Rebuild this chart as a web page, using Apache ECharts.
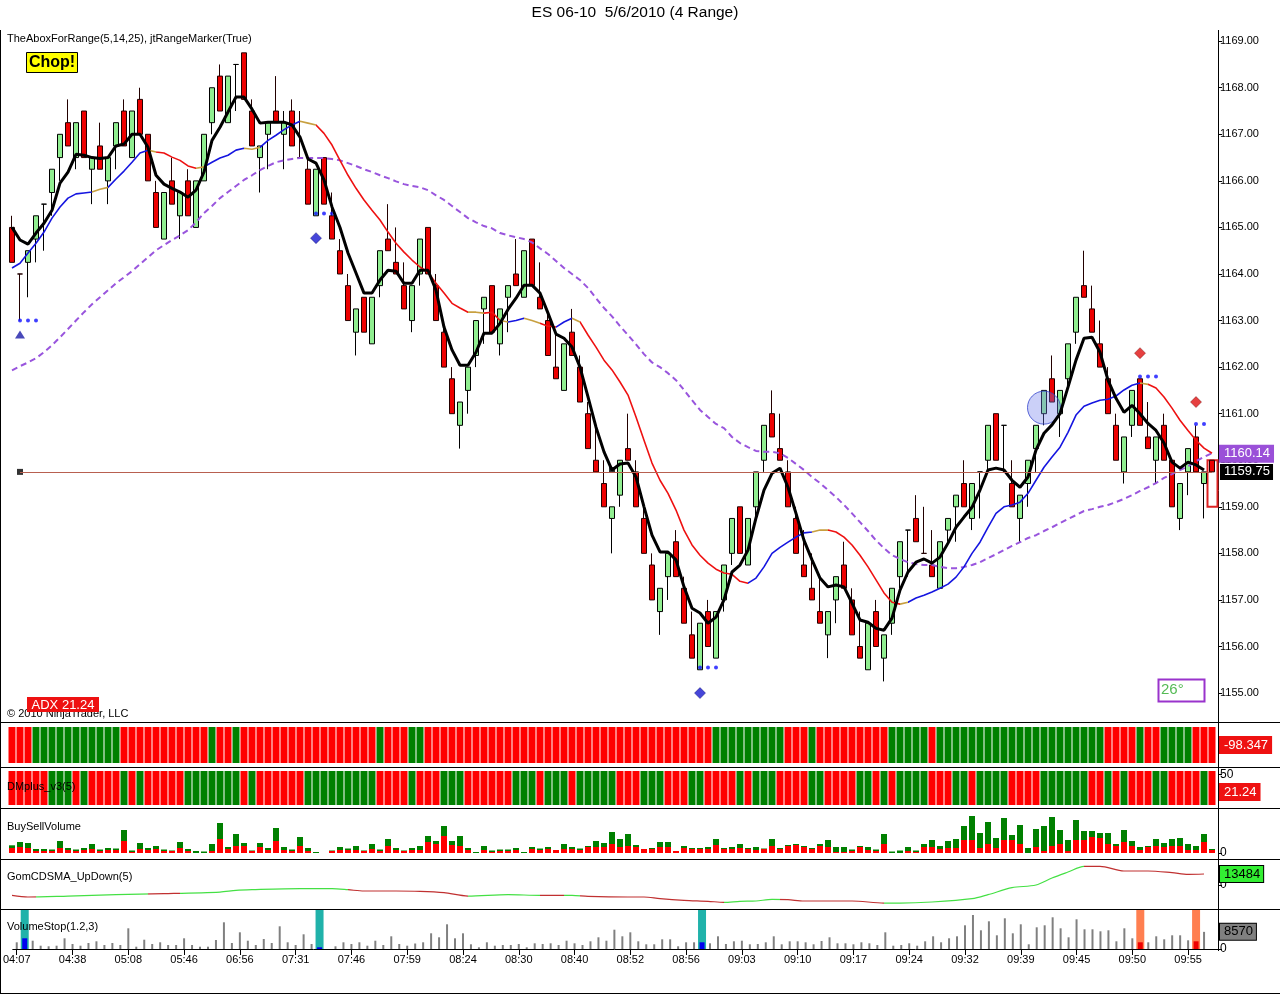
<!DOCTYPE html>
<html><head><meta charset="utf-8">
<script src="https://cdn.jsdelivr.net/npm/echarts@6/dist/echarts.min.js"></script>
<style>html,body{margin:0;padding:0;background:#fff}#c{width:1280px;height:994px}</style>
</head><body><div id="c"></div>
<script>
// ---------- DATA ----------
const tickLabels = ['04:07','04:38','05:08','05:46','06:56','07:31','07:46','07:59','08:24','08:30','08:40','08:52','08:56','09:03','09:10','09:17','09:24','09:32','09:39','09:45','09:50','09:55'];
const priceTicks = [1155,1156,1157,1158,1159,1160,1161,1162,1163,1164,1165,1166,1167,1168,1169];

const opens = [1165.0,1164.0,1164.25,1164.75,1165.5,1165.75,1166.5,1167.25,1166.5,1167.5,
1166.25,1166.75,1166.0,1166.75,1167.5,1166.5,1167.75,1167.0,1165.75,1164.75,
1166.0,1165.25,1166.0,1165.0,1166.0,1167.25,1168.25,1167.25,1168.5,1168.75,
1167.5,1166.5,1167.0,1167.5,1167.0,1167.5,1166.5,1166.25,1165.25,1166.5,
1165.25,1164.5,1163.75,1162.75,1163.5,1162.5,1163.75,1164.75,1164.25,1163.75,
1163.0,1164.0,1165.0,1163.75,1162.75,1161.75,1160.75,1161.5,1162.25,1163.25,
1163.75,1162.5,1163.5,1164.0,1163.5,1164.75,1163.5,1163.0,1162.0,1161.5,
1162.75,1162.0,1161.0,1160.0,1159.5,1158.75,1159.25,1160.25,1159.75,1158.75,
1157.75,1156.75,1157.5,1158.25,1157.25,1156.25,1155.5,1156.75,1155.75,1157.0,
1158.0,1159.0,1157.75,1159.0,1160.0,1161.0,1160.25,1159.75,1158.75,1157.75,
1157.25,1156.75,1156.25,1157.0,1157.75,1157.0,1156.0,1155.5,1156.75,1155.75,
1156.5,1157.5,1158.5,1158.75,1158.0,1157.75,1157.25,1158.5,1159.0,1159.5,
1158.75,1159.75,1160.0,1161.0,1160.75,1159.5,1158.75,1159.5,1160.25,1161.0,
1161.75,1161.0,1161.75,1162.75,1163.75,1163.25,1162.5,1161.75,1160.75,1159.75,
1160.75,1161.75,1160.5,1160.0,1160.75,1160.0,1158.75,1159.75,1160.5,1159.5,
1160.0];
const closes = [1164.25,1164.0,1164.5,1165.25,1165.5,1166.25,1167.0,1166.75,1167.25,1166.5,
1166.5,1166.25,1166.5,1167.25,1166.75,1167.5,1167.0,1166.0,1165.0,1165.75,
1165.5,1165.75,1165.25,1166.0,1167.0,1168.0,1167.5,1168.25,1168.5,1167.75,
1166.75,1166.75,1167.25,1167.25,1167.25,1166.75,1166.5,1165.5,1166.25,1165.5,
1164.75,1164.0,1163.0,1163.25,1162.75,1163.5,1164.5,1164.5,1164.0,1163.25,
1163.75,1164.75,1164.0,1163.0,1162.0,1161.0,1161.25,1162.0,1163.0,1163.5,
1162.75,1163.25,1163.75,1163.75,1164.5,1163.75,1163.25,1162.25,1161.75,1162.5,
1162.25,1161.25,1160.25,1159.75,1159.0,1159.0,1160.0,1160.0,1159.0,1158.0,
1157.0,1157.25,1158.0,1157.5,1156.5,1155.75,1156.5,1156.0,1156.75,1157.75,
1158.75,1158.0,1158.75,1159.75,1160.75,1160.5,1160.0,1159.0,1158.0,1157.5,
1157.0,1156.5,1156.75,1157.5,1157.25,1156.25,1155.75,1156.5,1156.0,1156.25,
1157.25,1158.25,1158.5,1158.25,1158.0,1157.5,1158.25,1158.75,1159.25,1159.0,
1159.5,1159.75,1160.75,1160.0,1160.75,1159.0,1159.25,1160.0,1160.75,1161.5,
1161.25,1161.5,1162.5,1163.5,1163.5,1162.75,1162.0,1161.0,1160.0,1160.5,
1161.5,1160.75,1160.25,1160.5,1160.0,1159.0,1159.5,1160.25,1159.75,1159.75,
1159.75];
const lows = [1164.25,1163.0,1163.5,1164.25,1164.5,1165.25,1166.0,1166.75,1166.25,1166.5,
1165.5,1166.25,1165.5,1166.25,1166.75,1166.5,1167.0,1166.0,1165.0,1164.75,
1165.5,1164.75,1165.25,1165.0,1166.0,1167.0,1167.5,1167.25,1167.5,1167.75,
1166.75,1165.75,1166.25,1167.25,1166.25,1166.75,1166.5,1165.5,1165.25,1165.5,
1164.75,1164.0,1163.0,1162.25,1162.75,1162.5,1163.5,1164.5,1164.0,1163.25,
1162.75,1163.75,1164.0,1163.0,1162.0,1161.0,1160.25,1161.0,1162.0,1162.5,
1162.75,1162.25,1162.75,1163.75,1163.5,1163.75,1163.25,1162.25,1161.75,1161.5,
1162.25,1161.25,1160.25,1159.75,1159.0,1158.0,1159.0,1160.0,1159.0,1158.0,
1157.0,1156.25,1157.0,1157.5,1156.5,1155.75,1155.5,1156.0,1155.75,1156.75,
1157.75,1158.0,1157.75,1158.75,1159.75,1160.5,1160.0,1159.0,1158.0,1157.5,
1157.0,1156.5,1155.75,1156.5,1157.25,1156.25,1155.75,1155.5,1156.0,1155.25,
1156.25,1157.25,1157.5,1158.25,1158.0,1157.5,1157.25,1158.25,1158.25,1159.0,
1158.5,1158.75,1159.75,1160.0,1159.75,1159.0,1158.25,1159.0,1159.75,1160.75,
1161.25,1160.5,1161.5,1162.5,1163.5,1162.75,1162.0,1161.0,1160.0,1159.5,
1160.5,1160.75,1160.25,1159.5,1160.0,1159.0,1158.5,1159.25,1159.75,1158.75,
1159.75];
const highs = [1165.25,1164.0,1164.5,1165.25,1165.5,1166.25,1167.0,1167.75,1167.25,1167.5,
1166.5,1167.25,1166.5,1167.25,1167.75,1167.5,1168.0,1167.0,1166.0,1165.75,
1166.5,1165.75,1166.25,1166.0,1167.0,1168.0,1168.5,1168.25,1168.5,1168.75,
1167.75,1166.75,1167.25,1168.25,1167.5,1167.75,1167.5,1166.5,1166.25,1166.5,
1165.75,1164.75,1164.0,1163.25,1163.5,1163.5,1164.5,1165.5,1165.0,1164.25,
1163.75,1164.75,1165.0,1164.0,1163.0,1162.0,1161.25,1162.0,1163.0,1163.5,
1163.75,1163.25,1163.75,1164.75,1164.5,1164.75,1164.25,1163.25,1162.75,1162.5,
1163.25,1162.25,1161.25,1160.75,1160.0,1159.0,1160.0,1161.0,1160.0,1159.0,
1158.0,1157.25,1158.0,1158.5,1157.5,1156.75,1156.5,1157.0,1156.75,1157.75,
1158.75,1159.0,1158.75,1159.75,1160.75,1161.5,1161.0,1160.0,1159.0,1158.5,
1158.0,1157.5,1156.75,1157.5,1158.25,1157.25,1156.75,1156.5,1157.0,1156.25,
1157.25,1158.25,1158.5,1159.25,1159.0,1158.5,1158.25,1158.75,1159.25,1160.0,
1159.5,1159.75,1160.75,1161.0,1160.75,1160.0,1159.25,1160.0,1160.75,1161.5,
1162.25,1161.5,1162.5,1163.5,1164.5,1163.75,1163.0,1162.0,1161.0,1160.5,
1161.5,1161.75,1161.25,1160.5,1161.0,1160.0,1159.5,1160.25,1160.75,1159.75,
1160.0];

const fastMA = [1165.0,1164.73,1164.64,1164.88,1165.09,1165.37,1165.95,1166.19,1166.57,1166.55,
1166.5,1166.48,1166.5,1166.75,1166.79,1167.0,1167.0,1166.72,1166.12,1165.93,
1165.84,1165.76,1165.65,1165.8,1166.19,1166.87,1167.15,1167.48,1167.8,1167.8,
1167.54,1167.24,1167.26,1167.26,1167.26,1167.2,1166.94,1166.47,1166.38,1166.02,
1165.44,1165.0,1164.45,1164.02,1163.59,1163.59,1163.87,1164.08,1164.06,1163.8,
1163.8,1164.08,1164.08,1163.65,1162.86,1162.37,1162.04,1162.04,1162.32,1162.73,
1162.73,1162.94,1163.24,1163.48,1163.76,1163.76,1163.59,1163.16,1162.71,1162.62,
1162.43,1162.0,1161.36,1160.71,1160.18,1159.79,1159.92,1159.94,1159.64,1159.0,
1158.39,1158.03,1158.03,1157.86,1157.28,1156.82,1156.72,1156.5,1156.63,1157.0,
1157.6,1157.75,1158.07,1158.76,1159.36,1159.72,1159.83,1159.42,1158.86,1158.28,
1157.86,1157.47,1157.28,1157.32,1157.28,1156.93,1156.57,1156.52,1156.39,1156.35,
1156.61,1157.21,1157.6,1157.81,1157.88,1157.79,1157.92,1158.22,1158.56,1158.78,
1158.99,1159.36,1159.79,1159.83,1159.79,1159.57,1159.42,1159.64,1160.22,1160.58,
1160.76,1161.0,1161.57,1162.15,1162.62,1162.64,1162.32,1161.72,1161.33,1161.03,
1161.18,1161.0,1160.79,1160.64,1160.37,1159.96,1159.83,1159.96,1159.9,1159.79,
null];
const midMA = [1164.13,1164.23,1164.45,1164.66,1164.9,1165.2,1165.44,1165.63,1165.72,1165.74,
1165.76,1165.82,1165.86,1166.04,1166.21,1166.4,1166.6,1166.66,1166.62,1166.6,
1166.51,1166.44,1166.32,1166.27,1166.3,1166.4,1166.49,1166.55,1166.66,1166.7,
1166.68,1166.72,1166.87,1166.98,1167.1,1167.2,1167.28,1167.24,1167.2,1167.02,
1166.77,1166.44,1166.12,1165.84,1165.59,1165.37,1165.16,1164.9,1164.66,1164.47,
1164.3,1164.15,1164.04,1163.8,1163.59,1163.37,1163.27,1163.18,1163.18,1163.16,
1163.18,1163.0,1162.97,1163.0,1163.05,1163.0,1162.94,1162.88,1162.86,1162.97,
1163.05,1162.97,1162.69,1162.43,1162.15,1161.94,1161.68,1161.4,1160.93,1160.43,
1159.94,1159.57,1159.29,1158.93,1158.5,1158.18,1157.96,1157.79,1157.66,1157.58,
1157.55,1157.4,1157.36,1157.47,1157.71,1158.0,1158.13,1158.24,1158.35,1158.44,
1158.46,1158.5,1158.5,1158.46,1158.35,1158.18,1157.96,1157.71,1157.43,1157.15,
1156.95,1156.91,1156.95,1157.04,1157.1,1157.17,1157.25,1157.34,1157.49,1157.71,
1158.0,1158.24,1158.56,1158.86,1159.0,1159.04,1159.1,1159.29,1159.57,1159.85,
1160.07,1160.28,1160.6,1160.97,1161.16,1161.23,1161.29,1161.31,1161.38,1161.51,
1161.61,1161.66,1161.63,1161.55,1161.36,1161.12,1160.86,1160.64,1160.43,1160.26,
1160.15];
const slowMA = [1161.93,1162.02,1162.1,1162.19,1162.32,1162.47,1162.64,1162.82,1163.0,1163.18,
1163.35,1163.5,1163.65,1163.8,1163.93,1164.06,1164.21,1164.36,1164.51,1164.62,
1164.73,1164.83,1164.94,1165.11,1165.31,1165.46,1165.63,1165.76,1165.89,1166.02,
1166.12,1166.23,1166.32,1166.4,1166.44,1166.47,1166.49,1166.49,1166.49,1166.49,
1166.47,1166.44,1166.38,1166.32,1166.25,1166.19,1166.12,1166.06,1165.99,1165.93,
1165.89,1165.86,1165.8,1165.69,1165.59,1165.46,1165.33,1165.2,1165.11,1165.03,
1164.98,1164.88,1164.83,1164.79,1164.75,1164.68,1164.55,1164.43,1164.28,1164.13,
1164.0,1163.87,1163.7,1163.48,1163.27,1163.09,1162.88,1162.69,1162.49,1162.28,
1162.1,1162.0,1161.87,1161.72,1161.51,1161.29,1161.08,1160.93,1160.78,1160.69,
1160.5,1160.37,1160.28,1160.2,1160.18,1160.18,1160.15,1160.05,1159.92,1159.79,
1159.64,1159.51,1159.36,1159.21,1159.04,1158.86,1158.67,1158.48,1158.28,1158.11,
1157.96,1157.88,1157.81,1157.77,1157.75,1157.75,1157.71,1157.68,1157.68,1157.71,
1157.75,1157.81,1157.9,1157.98,1158.07,1158.16,1158.24,1158.33,1158.39,1158.48,
1158.56,1158.65,1158.74,1158.82,1158.91,1158.95,1159.0,1159.04,1159.1,1159.17,
1159.25,1159.34,1159.42,1159.51,1159.62,1159.7,1159.79,1159.87,1159.98,1160.07,
1160.15];
// colour state of the mid average: [from, to, state] b=rising g=flat r=falling
const maColorRuns = [[0,9,'b'],[10,11,'g'],[12,16,'b'],[17,17,'g'],[18,22,'r'],[23,23,'g'],[24,28,'b'],[29,30,'g'],[31,35,'b'],[36,37,'g'],[38,56,'r'],[57,58,'g'],[59,60,'r'],[61,61,'g'],[62,63,'b'],[64,65,'g'],[66,67,'r'],[68,69,'b'],[70,70,'g'],[71,91,'r'],[92,99,'b'],[100,101,'g'],[102,110,'r'],[111,111,'g'],[112,140,'b'],[141,141,'g'],[142,150,'r']];

const rangeDots = [[1,1163.0],[2,1163.0],[3,1163.0],[38,1165.3],[39,1165.3],[40,1165.3],[86,1155.55],[87,1155.55],[88,1155.55],[141,1161.8],[142,1161.8],[143,1161.8],[148,1160.78],[149,1160.78]];
const upTriangles = [[1,1162.7]];
const blueDiamonds = [[38,1164.77],[86,1155.0]];
const redDiamonds = [[141,1162.3],[148,1161.25]];
const chopCircle = [[129,1161.13]];
const blackSquares = [[1,1159.75],[75,1159.79]];
const rangeBox = [[150,1159.0,1160.0]];
const lastPrice = 1159.75;
const slowLast = 1160.14;

// sub panels
const stripARuns = [['D',3],['U',11],['D',11],['U',1],['D',2],['U',1],['D',17],['U',1],['D',3],['U',2],['D',36],['U',9],['D',3],['U',1],['D',9],['U',5],['D',1],['U',21],['D',4],['U',1],['D',2],['U',4],['D',3]];
const stripAValue = '-98.347';
const dmRuns = [['D',5],['U',3],['D',1],['U',1],['D',4],['U',1],['D',1],['U',1],['D',5],['U',7],['D',1],['U',1],['D',6],['U',9],['D',4],['U',1],['D',3],['U',3],['D',6],['U',3],['D',1],['U',3],['D',1],['U',5],['D',3],['U',3],['D',3],['U',2],['D',4],['U',1],['D',1],['U',3],['D',4],['U',2],['D',4],['U',2],['D',1],['U',1],['D',1],['U',4],['D',3],['U',2],['D',1],['U',4],['D',4],['U',6],['D',2],['U',1],['D',1],['U',1],['D',3],['U',2],['D',4],['U',1],['D',1]];
const dmValue = 21.24;

const sellVol = [5,6,5,2,2,2,5,3,2,3, 4,2,3,3,12,1,4,3,4,2, 2,5,2,0,0,2,14,4,7,7, 2,6,3,12,3,2,7,2,0,0,
2,3,3,3,2,4,2,7,3,2, 3,3,11,9,17,8,7,3,0,3, 1,2,2,3,0,4,3,4,3,4, 4,3,6,6,6,9,6,7,6,4,
4,6,6,2,5,4,4,4,8,4, 4,5,4,3,4,7,4,7,8,6, 4,7,6,1,1,2,6,3,2,9, 0,0,2,1,6,6,4,5,5,13,
13,5,9,5,13,13,9,0,6,2, 7,9,2,13,13,16,15,9,7,11, 7,3,6,7,6,7,7,3,3,11, 3];
const buyVol = [2.7,5,5,2,2,1.5,7,2,1.5,2, 5,1.5,2,1.5,11,1.5,6,2,3,1.5, 0.5,6,2,2,1.5,7,16,2,12,3, 0.5,4,2,13,3,1.5,9,3,1,0,
0.5,3,1.5,4,0.5,5,1.5,7,2,0.5, 2,4,6,3,10,4,10,2,1,4, 1.5,1.5,1.5,2,1,2,1.5,2,0,5, 2,1.5,1,6,4,12,8,12,2,0,
1,5,5,0,2,1,1,2,6,1, 2,4,1,3,0.5,7,1,1,1,1, 1,2,7,5,5,1.5,1,3,1.5,10, 1.5,2.5,4,1.5,3,7,3,7,9,14,
24,15,22,10,22,5,19,5,18,25, 29,14,11,20,9,6,5,11,2,12, 5,3,1,7,4,7,8,6,4,8, 1];

const gomPoints = [[0,-12650],[2,-14700],[7,-13500],[13,-11850],[19,-10650],[26,-8600],[28,-6540],[30,-5720],[36,-4500],[40,-4500],[42,-5720],[44,-7360],[48,-7360],[51,-7770],[54,-9400],[57,-13500],[62,-11850],[66,-12650],[70,-12650],[72,-13900],[77,-14700],[79,-14700],[81,-16750],[84,-18800],[87,-20000],[89,-21250],[91,-20000],[93,-19600],[95,-17570],[97,-18000],[99,-19600],[101,-19600],[105,-19600],[109,-22100],[111,-22100],[115,-20800],[120,-16750],[122,-11850],[125,-3270],[128,0],[130,8580],[132,15900],[134,22900],[136,22900],[139,17200],[142,17200],[145,15130],[147,13100],[149,13484]];
const gomColorRuns = [[0,3,'r'],[3,17,'g'],[17,21,'r'],[21,42,'g'],[42,57,'r'],[57,66,'g'],[66,69,'r'],[69,71,'g'],[71,89,'r'],[89,96,'g'],[96,109,'r'],[109,134,'g'],[134,150,'r']];
const gomLast = 13484;

const volStop = [3350,5350,4150,1650,1350,1650,5350,2500,1650,3000,
3850,2000,3000,2000,10350,1150,4650,2500,3350,2000,
2000,5350,2000,1150,1150,4500,13350,3000,8350,4150,
2000,5000,3000,11350,3350,2000,7350,2500,850,0,
1350,3350,2500,3350,1650,4150,2000,6350,2500,1650,
2750,3350,7850,5850,12350,5350,7850,2350,850,3350,
1650,2000,2000,2500,850,2850,2500,2850,2000,4150,
2850,2000,3850,5850,4150,9650,6350,8350,3850,2350,
2350,4850,4850,1350,3350,3350,3350,2850,6350,2500,
3850,4150,2350,2500,3350,6350,2350,3850,3850,3350,
2350,4000,5850,2850,2850,2350,3350,2850,2000,8350,
1650,2000,2850,1650,3850,6350,3350,5350,6350,11850,
17000,9350,13850,6850,15350,7850,12350,2350,10850,11850,
15850,10350,5850,14850,9850,9850,8850,9350,3850,10350,
5350,3350,3350,6350,4850,6850,6850,4350,3850,8570,
0];
const volStopUp = [1,38,86];
const volStopDown = [141,148];
const volLast = 8570;

// ---------- BUILD ----------
const cats = opens.map((_, i) => String(i));
const expand = runs => runs.flatMap(([s, n]) => Array(n).fill(s));
const stripA = expand(stripARuns);
const dm = expand(dmRuns);
const FONT = '"Liberation Sans", Arial, sans-serif';
const RED = '#ff0000', GREEN = '#008000';
const VOLMAX = 19500;

const maColor = {b:'#1515e0', r:'#ee1111', g:'#c8a040'};
const maPieces = maColorRuns.map(([a,b,c]) => ({gte:a-0.5, lt:b+0.5, color:maColor[c]}));
const gomColor = {g:'#44e044', r:'#c03030'};
const gomPieces = gomColorRuns.map(([a,b,c], k) => k === gomColorRuns.length-1 ? {gte:a, lte:b+1, color:gomColor[c]} : {gte:a, lt:b, color:gomColor[c]});

const grids = [
  {top:30, height:691}, {top:727, height:36}, {top:771, height:34},
  {top:809, height:44}, {top:860, height:49}, {top:910, height:39}
].map(g => Object.assign({left:8, width:1208}, g));

const xAxes = grids.map((g, k) => ({
  type:'category', data:cats, gridIndex:k, boundaryGap:true, show:k === 5,
  axisLine:{show:true, lineStyle:{color:'#000'}},
  axisTick:{show:true, alignWithLabel:true, length:6, interval:(i) => i % 7 === 0, lineStyle:{color:'#000'}},
  axisLabel:{show:true, interval:(i) => i % 7 === 0, formatter:(v, i) => tickLabels[i/7] || '', color:'#000', fontSize:11, fontFamily:FONT, margin:5}
}));
xAxes.push({type:'category', data:cats, gridIndex:5, show:false});
xAxes.push({type:'category', data:cats, gridIndex:5, show:false});

function yAx(k, min, max, ticks, fmt, fs){
  return {type:'value', gridIndex:k, position:'right', offset:2, min:min, max:max, splitLine:{show:false},
    axisLine:{show:false},
    axisTick:{show:ticks.length>0, length:4, inside:false, customValues:ticks, lineStyle:{color:'#000'}},
    axisLabel:{show:ticks.length>0, customValues:ticks, formatter:fmt || (v => String(v)), color:'#000', fontSize:fs || 11, fontFamily:FONT, margin:2}};
}
const yAxes = [
  yAx(0, 1154.4, 1169.24, priceTicks, v => v.toFixed(2)),
  yAx(1, 0, 1, []),
  yAx(2, 0, 56, [50], null, 12),
  yAx(3, 0, 44, [0], null, 12),
  yAx(4, -29400, 30650, [0], null, 12),
  yAx(5, 0, VOLMAX, [0], null, 12)
];

function tag(value, text, bg, fg, border){
  return {silent:true, symbol:['none','none'], animation:false,
    lineStyle:{color:'rgba(0,0,0,0)', width:0},
    data:[{yAxis:value}],
    label:{show:true, position:'end', distance:4, formatter:text, color:fg, backgroundColor:bg,
      borderColor:border || bg, borderWidth:1, padding:[2,3,1,4], fontSize:13, fontFamily:FONT}};
}

const series = [
  {type:'candlestick', xAxisIndex:0, yAxisIndex:0, barWidth:5,
   data: opens.map((o, i) => [o, closes[i], lows[i], highs[i]]),
   itemStyle:{color:'#90ee90', color0:'#ee0000', borderColor:'#000', borderColor0:'#200', borderWidth:1},
   markLine:{silent:true, symbol:['none','none'], animation:false,
     data:[[{coord:[1, lastPrice]}, {coord:[150, lastPrice]}]], lineStyle:{color:'#b86050', width:1, type:'solid'},
     label:{show:true, position:'end', distance:8, formatter:lastPrice.toFixed(2), color:'#fff', backgroundColor:'#000', padding:[2,3,1,4], fontSize:13, fontFamily:FONT}}},
  {type:'line', xAxisIndex:0, yAxisIndex:0, data:slowMA, showSymbol:false, lineStyle:{color:'#9955dd', width:2, type:[6,4]},
   markLine: tag(slowLast, slowLast.toFixed(2), '#9a50d8', '#fff')},
  {type:'line', xAxisIndex:0, yAxisIndex:0, data:midMA, showSymbol:false, lineStyle:{width:1.6}},
  {type:'line', xAxisIndex:0, yAxisIndex:0, data:fastMA, showSymbol:false, lineStyle:{color:'#000', width:3}},
  {type:'scatter', xAxisIndex:0, yAxisIndex:0, data:rangeDots, symbol:'circle', symbolSize:4, itemStyle:{color:'#1010ff'}},
  {type:'scatter', xAxisIndex:0, yAxisIndex:0, data:upTriangles, symbol:'triangle', symbolSize:[10,8], itemStyle:{color:'#1a1aa8'}},
  {type:'scatter', xAxisIndex:0, yAxisIndex:0, data:blueDiamonds, symbol:'diamond', symbolSize:11, itemStyle:{color:'#1818d0', borderColor:'#000060', borderWidth:0.5}},
  {type:'scatter', xAxisIndex:0, yAxisIndex:0, data:redDiamonds, symbol:'diamond', symbolSize:11, itemStyle:{color:'#e01010', borderColor:'#600', borderWidth:0.5}},
  {type:'scatter', xAxisIndex:0, yAxisIndex:0, data:chopCircle, symbol:'circle', symbolSize:33, itemStyle:{color:'rgba(110,125,235,0.45)', borderColor:'#3344cc', borderWidth:1}},
  {type:'scatter', xAxisIndex:0, yAxisIndex:0, data:blackSquares, symbol:'rect', symbolSize:6, itemStyle:{color:'#000'}},
  {type:'custom', xAxisIndex:0, yAxisIndex:0, data:rangeBox, encode:{x:0, y:[1,2]}, clip:false,
   renderItem:(params, api) => {
     const top = api.coord([api.value(0), api.value(2)]);
     const bot = api.coord([api.value(0), api.value(1)]);
     return {type:'rect', shape:{x:top[0]-4.5, y:top[1], width:10, height:bot[1]-top[1]}, style:{fill:'none', stroke:'#dd2222', lineWidth:2}};
   }},
  {type:'bar', xAxisIndex:1, yAxisIndex:1, barWidth:7, data: stripA.map(s => ({value:1, itemStyle:{color: s === 'U' ? GREEN : RED}})),
   markLine: tag(0.5, stripAValue, '#ee1111', '#fff')},
  {type:'bar', xAxisIndex:2, yAxisIndex:2, barWidth:7, data: dm.map(s => ({value:56, itemStyle:{color: s === 'U' ? GREEN : RED}})),
   markLine: tag(dmValue, dmValue.toFixed(2), '#ee1111', '#fff')},
  {type:'bar', xAxisIndex:3, yAxisIndex:3, barWidth:6, stack:'bsv', data:sellVol, itemStyle:{color:RED}},
  {type:'bar', xAxisIndex:3, yAxisIndex:3, barWidth:6, stack:'bsv', data:buyVol, itemStyle:{color:GREEN}},
  {type:'line', xAxisIndex:4, yAxisIndex:4, data:gomPoints, showSymbol:false, smooth:0.3, lineStyle:{width:1.2},
   markLine: tag(gomLast, String(gomLast), '#33ee33', '#000', '#000')},
  {type:'bar', xAxisIndex:6, yAxisIndex:5, barWidth:8,
   data: cats.map((_, i) => volStopUp.includes(i) ? {value:VOLMAX, itemStyle:{color:'#20b2aa'}} : (volStopDown.includes(i) ? {value:VOLMAX, itemStyle:{color:'#ff7f50'}} : null))},
  {type:'bar', xAxisIndex:5, yAxisIndex:5, barWidth:2,
   data: volStop.map((v, i) => (volStopUp.includes(i) || volStopDown.includes(i)) ? null : v), itemStyle:{color:'#808080'},
   markLine: tag(volLast, String(volLast), '#808080', '#000', '#000')},
  {type:'bar', xAxisIndex:7, yAxisIndex:5, barWidth:5,
   data: volStop.map((v, i) => volStopUp.includes(i) ? {value:v, itemStyle:{color:'#0000ee'}} : (volStopDown.includes(i) ? {value:v, itemStyle:{color:'#ee0000'}} : null))}
];

const hLine = (y) => ({type:'line', shape:{x1:0, y1:y, x2:1280, y2:y}, style:{stroke:'#000', lineWidth:1}});
const txt = (x, y, text, size, extra) => ({type:'text', x:x, y:y, z:100, style:Object.assign({text:text, font:size + 'px ' + FONT, fill:'#000', verticalAlign:'middle'}, extra || {})});

const graphic = [
  txt(635, 13, 'ES 06-10  5/6/2010 (4 Range)', 15.5, {align:'center'}),
  txt(7, 39, 'TheAboxForRange(5,14,25), jtRangeMarker(True)', 11),
  {type:'rect', z:100, shape:{x:26.5, y:52.5, width:51, height:20}, style:{fill:'#ffff00', stroke:'#000', lineWidth:1}},
  txt(52, 63, 'Chop!', 16, {align:'center', font:'bold 16px ' + FONT}),
  txt(7, 714, '\u00a9 2010 NinjaTrader, LLC', 11),
  {type:'rect', z:101, shape:{x:27, y:697, width:72, height:15}, style:{fill:'#ee1111'}},
  {type:'text', z:102, x:63, y:705, style:{text:'ADX 21.24', font:'13px ' + FONT, fill:'#fff', align:'center', verticalAlign:'middle'}},
  {type:'rect', z:100, shape:{x:1158.5, y:679.5, width:46, height:22}, style:{fill:'none', stroke:'#9933cc', lineWidth:2}},
  txt(1161, 690, '26\u00b0', 15, {fill:'#55bb55'}),
  txt(7, 787, 'DMplus_v3(5)', 11),
  txt(7, 827, 'BuySellVolume', 11),
  txt(7, 877, 'GomCDSMA_UpDown(5)', 11),
  txt(7, 927, 'VolumeStop(1.2,3)', 11),
  hLine(722.5), hLine(767.5), hLine(808.5), hLine(859.5), hLine(909.5), hLine(993.5),
  {type:'line', shape:{x1:0.5, y1:30, x2:0.5, y2:994}, style:{stroke:'#000', lineWidth:1}},
  {type:'line', shape:{x1:1218.5, y1:30, x2:1218.5, y2:951}, style:{stroke:'#000', lineWidth:1}},
  {type:'line', shape:{x1:1216, y1:949.5, x2:1219, y2:949.5}, style:{stroke:'#000', lineWidth:1}}
];

const chart = echarts.init(document.getElementById('c'), null, {renderer:'canvas'});
chart.setOption({
  animation:false,
  backgroundColor:'#fff',
  textStyle:{fontFamily:FONT},
  grid:grids,
  xAxis:xAxes,
  yAxis:yAxes,
  visualMap:[
    {type:'piecewise', show:false, dimension:0, seriesIndex:2, pieces:maPieces, outOfRange:{color:'#1515e0'}},
    {type:'piecewise', show:false, dimension:0, seriesIndex:15, pieces:gomPieces, outOfRange:{color:'#44e044'}}
  ],
  series:series,
  graphic:graphic
});
</script>
</body></html>
